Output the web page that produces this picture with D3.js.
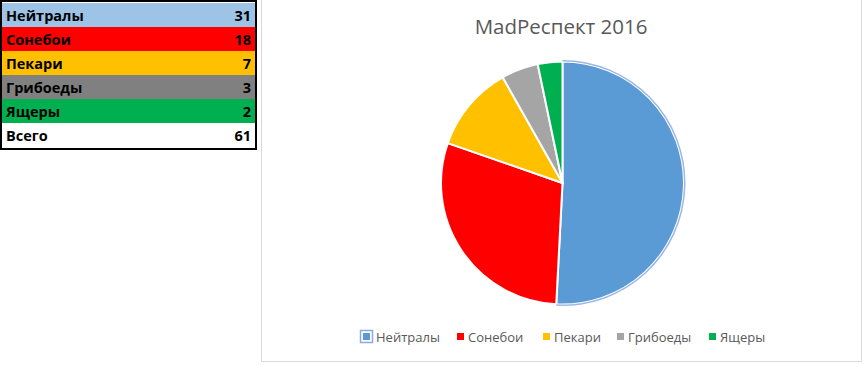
<!DOCTYPE html>
<html lang="ru">
<head>
<meta charset="UTF-8">
<title>MadРеспект 2016</title>
<script src="https://d3js.org/d3.v7.min.js"></script>
<style>
    body { margin: 0; background: #fff; }
    svg { display: block; }
</style>
</head>
<body>
<div id="chart"></div>
<script>
var teams = ["Нейтралы", "Сонебои", "Пекари", "Грибоеды", "Ящеры"];
var counts = [31, 18, 7, 3, 2];
var totalLabel = "Всего";
var tableColors = ["#9DC3E6", "#FF0000", "#FFC000", "#808080", "#00B050"];
var pieColors = ["#5B9BD5", "#FF0000", "#FFC000", "#A5A5A5", "#00B050"];
var title = "MadРеспект 2016";

var width = 864, height = 365;

var svg = d3.select("#chart").append("svg")
    .attr("width", width)
    .attr("height", height);

// ---- table on the left
var rows = teams.map(function (t, i) { return {name: t, value: counts[i], fill: tableColors[i]}; });
rows.push({name: totalLabel, value: d3.sum(counts), fill: "#ffffff"});

var rowY = d3.scaleBand()
    .domain(d3.range(rows.length))
    .range([3, 147]);

var table = svg.append("g");
var row = table.selectAll("g.row")
    .data(rows)
    .enter().append("g")
    .attr("class", "row")
    .attr("transform", function (d, i) { return "translate(0," + rowY(i) + ")"; });

row.append("rect")
    .attr("x", 2).attr("width", 253)
    .attr("height", rowY.bandwidth())
    .attr("fill", function (d) { return d.fill; });

row.append("text")
    .attr("x", 6)
    .attr("y", rowY.bandwidth() / 2 + 5.5)
    .style("font", "bold 14.5px 'Open Sans', sans-serif")
    .attr("fill", "#000")
    .text(function (d) { return d.name; });

row.append("text")
    .attr("x", 251)
    .attr("y", rowY.bandwidth() / 2 + 5.5)
    .attr("text-anchor", "end")
    .style("font", "bold 14.5px 'Open Sans', sans-serif")
    .attr("fill", "#000")
    .text(function (d) { return d.value; });

table.append("rect")
    .attr("x", 1).attr("y", 1)
    .attr("width", 255).attr("height", 148)
    .attr("fill", "none")
    .attr("stroke", "#000")
    .attr("stroke-width", 2);

// ---- chart box
svg.append("rect")
    .attr("x", 261.5).attr("y", -1)
    .attr("width", 600).attr("height", 362.5)
    .attr("fill", "#fff")
    .attr("stroke", "#d9d9d9");

svg.append("text")
    .attr("x", 561)
    .attr("y", 34)
    .attr("text-anchor", "middle")
    .style("font", "20.5px 'Open Sans', sans-serif")
    .attr("fill", "#595959")
    .text(title);

var cx = 562.5, cy = 183, r = 121.5;

var pie = d3.pie().sort(null).value(function (d) { return d; });
var arc = d3.arc().innerRadius(0).outerRadius(r);

var slices = svg.append("g")
    .attr("transform", "translate(" + cx + "," + cy + ")");

slices.selectAll("path")
    .data(pie(counts))
    .enter().append("path")
    .attr("d", arc)
    .attr("fill", function (d, i) { return pieColors[i]; })
    .attr("stroke", "#fff")
    .attr("stroke-width", 2)
    .attr("stroke-linejoin", "round");

// selected slice outline (outer edge only)
var sel = pie(counts)[0];
slices.append("path")
    .attr("d", d3.arc()({innerRadius: r, outerRadius: r + 1.5,
        startAngle: sel.startAngle, endAngle: sel.endAngle}))
    .attr("fill", "#9DB9E3");

// ---- legend
var legendX = [363, 457, 543, 617, 709];
var legend = svg.append("g");
var item = legend.selectAll("g")
    .data(teams)
    .enter().append("g")
    .attr("transform", function (d, i) { return "translate(" + legendX[i] + ",337)"; });

item.append("rect")
    .attr("x", 0).attr("y", -4)
    .attr("width", 7).attr("height", 7)
    .attr("fill", function (d, i) { return pieColors[i]; });

legend.append("rect")
    .attr("x", legendX[0] - 2.5).attr("y", 330.5)
    .attr("width", 12).attr("height", 12)
    .attr("fill", "none")
    .attr("stroke", "#8EAADB")
    .attr("stroke-width", 1.5);

item.append("text")
    .attr("x", function (d, i) { return i === 0 ? 13 : 11; })
    .attr("y", 5)
    .style("font", "13px 'Open Sans', sans-serif")
    .attr("fill", "#595959")
    .text(function (d) { return d; });
</script>
</body>
</html>
